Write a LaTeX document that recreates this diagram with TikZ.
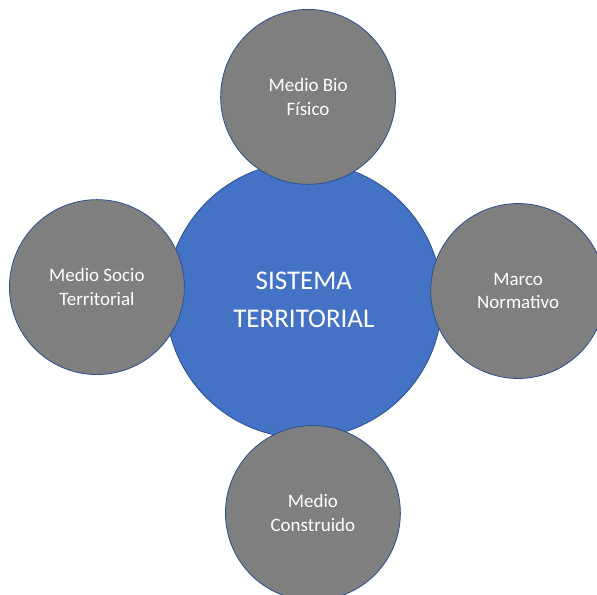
\documentclass[tikz,border=0pt]{standalone}
\usepackage{fontspec}
\setmainfont{Carlito}
\usepackage{tikz}
\definecolor{centroazul}{HTML}{4472C4}
\definecolor{medio}{HTML}{7F7F7F}
\definecolor{borde}{HTML}{2F528F}

\begin{document}
\begin{tikzpicture}[scale=1,
    centro/.style={circle, draw=borde, line width=0.8pt, fill=centroazul, minimum size=9.2cm, inner sep=0pt, text=white, align=center, font=\fontsize{25.6}{35.5}\selectfont},
    satelite/.style={circle, draw=borde, line width=0.8pt, fill=medio, minimum size=5.83cm, inner sep=0pt, text=white, align=center, font=\fontsize{18}{22.7}\selectfont}]
    \useasboundingbox (0,0) rectangle (19.9,-19.8);

    \node[centro] (sistema) at (10.13,-10.0) {SISTEMA\\TERRITORIAL};

    \node[satelite] (bio) at (10.27,-3.23) {Medio Bio\\Físico};
    \node[satelite] (socio) at (3.23,-9.57) {Medio Socio\\Territorial};
    \node[satelite] (marco) at (17.27,-9.7) {Marco\\Normativo};
    \node[satelite] (construido) at (10.43,-17.1) {Medio\\Construido};
\end{tikzpicture}
\end{document}
